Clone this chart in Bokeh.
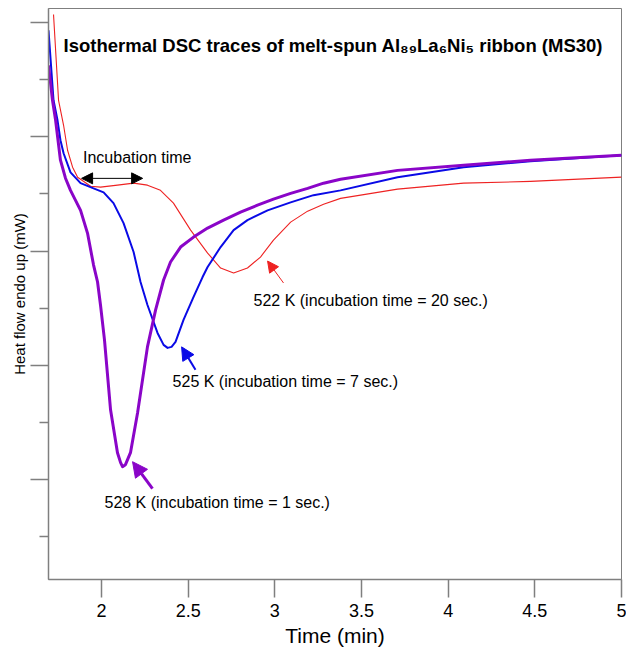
from bokeh.plotting import figure
from bokeh.models import Range1d, FixedTicker, Label, Arrow, NormalHead
from bokeh.embed import file_html
from bokeh.resources import INLINE

# ---------------- data ----------------
t_522 = [1.723, 1.752, 1.781, 1.804, 1.833, 1.862, 1.937, 1.994, 2.092, 2.185, 2.265, 2.340,
         2.415, 2.514, 2.612, 2.687, 2.762, 2.842, 2.917, 2.992, 3.091, 3.189, 3.281, 3.379,
         3.708, 4.089, 4.475, 5.0]
hf_522 = [10.143, 8.640, 8.203, 7.766, 7.469, 7.294, 7.136, 7.119, 7.154, 7.189, 7.154, 7.063,
          6.839, 6.367, 5.965, 5.703, 5.615, 5.703, 5.895, 6.192, 6.507, 6.699, 6.818, 6.923,
          7.084, 7.189, 7.220, 7.294]

t_525 = [1.694, 1.723, 1.746, 1.763, 1.781, 1.821, 1.879, 1.954, 2.012, 2.069, 2.127, 2.185,
         2.225, 2.265, 2.323, 2.358, 2.381, 2.404, 2.427, 2.473, 2.531, 2.583, 2.612, 2.687,
         2.762, 2.842, 2.958, 3.091, 3.223, 3.379, 3.708, 4.089, 4.475, 5.0]
hf_525 = [9.864, 8.640, 8.290, 7.941, 7.713, 7.378, 7.189, 7.098, 7.028, 6.839, 6.490, 5.983,
          5.458, 5.056, 4.566, 4.357, 4.304, 4.322, 4.409, 4.794, 5.196, 5.545, 5.720, 6.070,
          6.367, 6.542, 6.713, 6.853, 6.979, 7.063, 7.294, 7.469, 7.573, 7.678]

t_528 = [1.694, 1.706, 1.717, 1.735, 1.763, 1.792, 1.821, 1.879, 1.919, 1.954, 1.977, 1.994,
         2.017, 2.052, 2.092, 2.110, 2.121, 2.138, 2.167, 2.208, 2.265, 2.312, 2.358, 2.398,
         2.456, 2.531, 2.612, 2.704, 2.802, 2.900, 2.992, 3.091, 3.189, 3.281, 3.379, 3.708,
         4.089, 4.475, 5.0]
hf_528 = [9.252, 8.937, 8.640, 8.290, 7.591, 7.276, 7.063, 6.713, 6.315, 5.755, 5.458, 5.056,
          4.444, 3.220, 2.469, 2.294, 2.224, 2.259, 2.469, 3.168, 4.322, 4.969, 5.493, 5.808,
          6.070, 6.245, 6.402, 6.542, 6.682, 6.804, 6.909, 7.010, 7.098, 7.189, 7.259, 7.413,
          7.503, 7.591, 7.678]

x_ticks = [2, 2.5, 3, 3.5, 4, 4.5, 5]
x_tick_labels = ["2", "2.5", "3", "3.5", "4", "4.5", "5"]
y_major = [2, 4, 6, 8, 10]
y_minor = [1, 3, 5, 7, 9]

FONT = "Liberation Sans"
AXIS_GRAY = "#7f7f7f"

p = figure(width=626, height=649, output_backend="svg", toolbar_location=None,
           x_range=Range1d(1.694, 5.0), y_range=Range1d(0.248, 10.248),
           min_border_left=48, min_border_right=5, min_border_top=8, min_border_bottom=69)
p.background_fill_color = "white"
p.border_fill_color = "white"
p.outline_line_color = AXIS_GRAY
p.outline_line_width = 1
p.xgrid.visible = False
p.ygrid.visible = False

# x axis
xa = p.xaxis[0]
xa.ticker = FixedTicker(ticks=x_ticks, minor_ticks=[])
xa.major_label_overrides = {t: l for t, l in zip(x_ticks, x_tick_labels)}
xa.axis_label = "Time (min)"
xa.axis_label_text_font = FONT
xa.axis_label_text_font_style = "normal"
xa.axis_label_text_font_size = "21px"
xa.axis_label_text_color = "black"
xa.axis_label_standoff = 4
xa.major_label_text_font = FONT
xa.major_label_text_font_size = "18px"
xa.major_label_text_color = "black"
xa.major_label_standoff = 6
xa.major_tick_out = 18
xa.major_tick_in = 0
xa.minor_tick_out = 0
xa.minor_tick_in = 0
xa.axis_line_color = AXIS_GRAY
xa.axis_line_width = 1.5
xa.major_tick_line_color = AXIS_GRAY
xa.major_tick_line_width = 1.5

# y axis (unlabelled ticks)
ya = p.yaxis[0]
ya.ticker = FixedTicker(ticks=y_major, minor_ticks=y_minor)
ya.major_label_overrides = {t: "" for t in y_major}
ya.major_label_standoff = 0
ya.axis_label = "Heat flow endo up (mW)"
ya.axis_label_text_font = FONT
ya.axis_label_text_font_style = "normal"
ya.axis_label_text_font_size = "15px"
ya.axis_label_text_color = "black"
ya.axis_label_standoff = 3
ya.major_tick_out = 18
ya.major_tick_in = 0
ya.minor_tick_out = 9
ya.minor_tick_in = 0
ya.axis_line_color = AXIS_GRAY
ya.axis_line_width = 1.5
ya.major_tick_line_color = AXIS_GRAY
ya.major_tick_line_width = 1.5
ya.minor_tick_line_color = AXIS_GRAY
ya.minor_tick_line_width = 1.5

RED = "#ee2222"
BLUE = "#0a0ae6"
PURPLE = "#8a05c8"

p.line(t_522, hf_522, line_color=RED, line_width=1.1, line_join="round")
p.line(t_525, hf_525, line_color=BLUE, line_width=2, line_join="round")
p.line(t_528, hf_528, line_color=PURPLE, line_width=3, line_join="round")

# title inside the plot
p.add_layout(Label(x=1.781, y=9.601, text="Isothermal DSC traces of melt-spun Al\u2088\u2089La\u2086Ni\u2085 ribbon (MS30)",
                   text_font=FONT, text_font_style="bold", text_font_size="18.5px",
                   text_color="black", text_baseline="middle", text_align="left"))

# incubation time double arrow
p.add_layout(Arrow(x_start=1.885, y_start=7.273, x_end=2.237, y_end=7.273,
                   line_color="black", line_width=1,
                   start=NormalHead(size=11, fill_color="black", line_color="black"),
                   end=NormalHead(size=11, fill_color="black", line_color="black")))
p.add_layout(Label(x=1.893, y=7.643, text="Incubation time", text_font=FONT,
                   text_font_size="16px", text_color="black",
                   text_baseline="middle", text_align="left"))

# 522 K
p.add_layout(Arrow(x_start=3.050, y_start=5.441, x_end=2.958, y_end=5.825,
                   line_color=RED, line_width=1,
                   end=NormalHead(size=11, fill_color=RED, line_color=RED)))
p.add_layout(Label(x=2.877, y=5.126, text="522 K (incubation time = 20 sec.)", text_font=FONT,
                   text_font_size="16px", text_color="black",
                   text_baseline="middle", text_align="left"))

# 525 K
p.add_layout(Arrow(x_start=2.542, y_start=3.920, x_end=2.462, y_end=4.322,
                   line_color=BLUE, line_width=2,
                   end=NormalHead(size=13, fill_color=BLUE, line_color=BLUE)))
p.add_layout(Label(x=2.410, y=3.710, text="525 K (incubation time = 7 sec.)", text_font=FONT,
                   text_font_size="16px", text_color="black",
                   text_baseline="middle", text_align="left"))

# 528 K
p.add_layout(Arrow(x_start=2.294, y_start=1.839, x_end=2.179, y_end=2.311,
                   line_color=PURPLE, line_width=3,
                   end=NormalHead(size=15, fill_color=PURPLE, line_color=PURPLE)))
p.add_layout(Label(x=2.017, y=1.594, text="528 K (incubation time = 1 sec.)", text_font=FONT,
                   text_font_size="16px", text_color="black",
                   text_baseline="middle", text_align="left"))

open("out.html", "w").write(file_html(p, INLINE))
